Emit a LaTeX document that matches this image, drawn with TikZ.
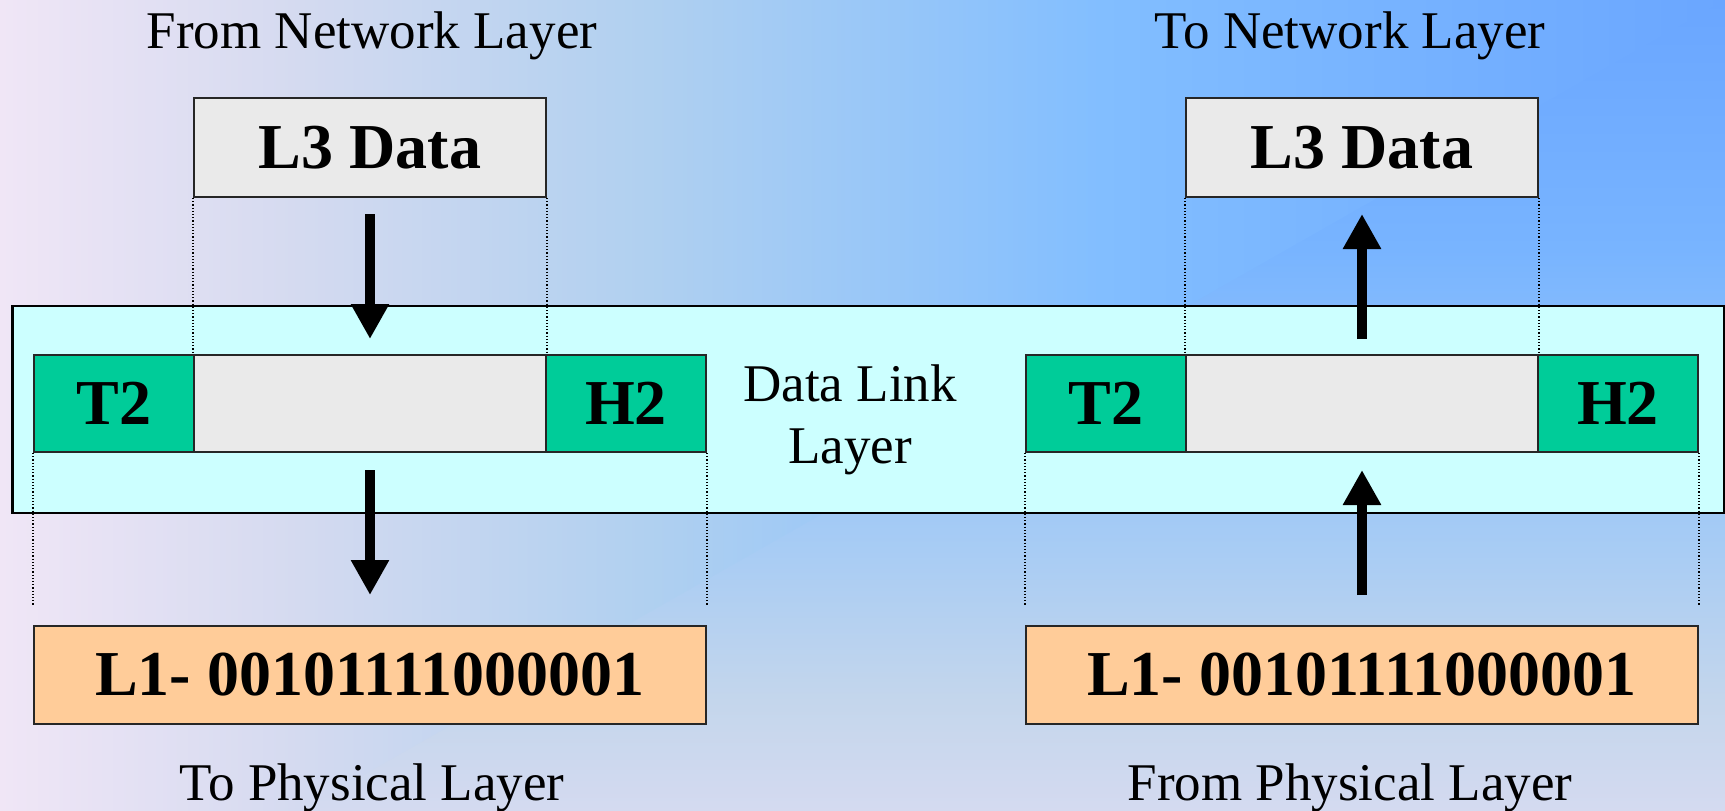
\documentclass[tikz,border=0pt]{standalone}
\usepackage{fontspec}
\setmainfont{Liberation Serif}
\usetikzlibrary{arrows.meta}
\definecolor{bgA}{HTML}{F0E6F6}
\definecolor{bgB}{HTML}{D4DAF0}
\definecolor{bgC}{HTML}{B0D0F0}
\definecolor{bgD}{HTML}{82BEFF}
\definecolor{bgE}{HTML}{6AA6FF}
\definecolor{bvA}{HTML}{6AA6FF}
\definecolor{bvB}{HTML}{78B4FF}
\definecolor{bvC}{HTML}{98C6F8}
\definecolor{bvD}{HTML}{A8CCF4}
\definecolor{bvE}{HTML}{C4D6EC}
\definecolor{bvF}{HTML}{D4DAF0}
\definecolor{frgreen}{HTML}{00CC99}
\definecolor{frgray}{HTML}{EAEAEA}
\definecolor{frorange}{HTML}{FFCC99}
\definecolor{frcyan}{HTML}{CCFFFF}
\pgfdeclarehorizontalshading{bgH}{100bp}{color(0bp)=(bgA); color(25bp)=(bgA); color(33.7bp)=(bgB); color(43.8bp)=(bgC); color(56.9bp)=(bgD); color(75bp)=(bgE); color(100bp)=(bgE)}
\pgfdeclareverticalshading{bgV}{100bp}{color(0bp)=(bvF); color(25bp)=(bvF); color(31.8bp)=(bvE); color(41.1bp)=(bvD); color(47.3bp)=(bvC); color(59.6bp)=(bvB); color(75bp)=(bvA); color(100bp)=(bvA)}
\newcommand\myboldbig{\fontsize{64}{70}\selectfont\bfseries}
\newcommand\mylabfont{\fontsize{53}{62}\selectfont}
\begin{document}
\begin{tikzpicture}[x=1pt,y=-1pt,
  box/.style={draw=black!85, line width=2pt, inner sep=0pt, font=\myboldbig},
  dllbox/.style={draw=black, line width=2.5pt, fill=frcyan, inner sep=0pt},
  lab/.style={inner sep=0pt, font=\mylabfont},
  dotline/.style={line width=1.2pt, dash pattern=on 1.2pt off 2pt},
  bigarrow/.style={line width=10pt, -{Triangle[width=36pt,length=35pt]}}]
\useasboundingbox (0,0) rectangle (1725,811);
\shade[shading=bgV] (0,0) rectangle (1725,811);
\begin{scope}
\clip (0,0) -- (1725,0) -- (300,811) -- (0,811) -- cycle;
\shade[shading=bgH] (0,0) rectangle (1725,811);
\end{scope}
% data link layer box
\node[dllbox, minimum width=1711.5pt, minimum height=207pt] (dll) at (868.25,409.5) {};
\node[lab, anchor=base, align=center] (dlt) at (850,463) {Data Link\\Layer};
% left stack
\node[box, fill=frgray, minimum width=352pt, minimum height=99pt] (l3a) at (370,147.5) {L3 Data};
\node[box, fill=frgreen, minimum width=160pt, minimum height=97pt] (t2a) at (114,403.5) {T2};
\node[box, fill=frgray, minimum width=352pt, minimum height=97pt] (mida) at (370,403.5) {};
\node[box, fill=frgreen, minimum width=160pt, minimum height=97pt] (h2a) at (626,403.5) {H2};
\node[box, fill=frorange, minimum width=672pt, minimum height=98pt] (l1a) at (370,675) {L1- 00101111000001};
% right stack
\node[box, fill=frgray, minimum width=352pt, minimum height=99pt] (l3b) at (1362,147.5) {L3 Data};
\node[box, fill=frgreen, minimum width=160pt, minimum height=97pt] (t2b) at (1106,403.5) {T2};
\node[box, fill=frgray, minimum width=352pt, minimum height=97pt] (midb) at (1362,403.5) {};
\node[box, fill=frgreen, minimum width=160pt, minimum height=97pt] (h2b) at (1618,403.5) {H2};
\node[box, fill=frorange, minimum width=672pt, minimum height=98pt] (l1b) at (1362,675) {L1- 00101111000001};
% labels
\node[lab, anchor=base] (fnl) at (372,48) {From Network Layer};
\node[lab, anchor=base] (tnl) at (1350,48) {To Network Layer};
\node[lab, anchor=base] (tpl) at (372,800) {To Physical Layer};
\node[lab, anchor=base] (fpl) at (1350,800) {From Physical Layer};
% dotted guides
\draw[dotline] (l3a.south west) -- (mida.north west);
\draw[dotline] (l3a.south east) -- (mida.north east);
\draw[dotline] (l3b.south west) -- (midb.north west);
\draw[dotline] (l3b.south east) -- (midb.north east);
\draw[dotline, shorten >=19pt] (t2a.south west) -- (l1a.north west);
\draw[dotline, shorten >=19pt] (h2a.south east) -- (l1a.north east);
\draw[dotline, shorten >=19pt] (t2b.south west) -- (l1b.north west);
\draw[dotline, shorten >=19pt] (h2b.south east) -- (l1b.north east);
% arrows
\draw[bigarrow, shorten <=16pt, shorten >=15pt] (l3a) -- (mida);
\draw[bigarrow, shorten <=17pt, shorten >=30pt] (mida) -- (l1a);
\draw[bigarrow, shorten <=15pt, shorten >=16pt] (midb) -- (l3b);
\draw[bigarrow, shorten <=30pt, shorten >=17pt] (l1b) -- (midb);
\end{tikzpicture}
\end{document}
